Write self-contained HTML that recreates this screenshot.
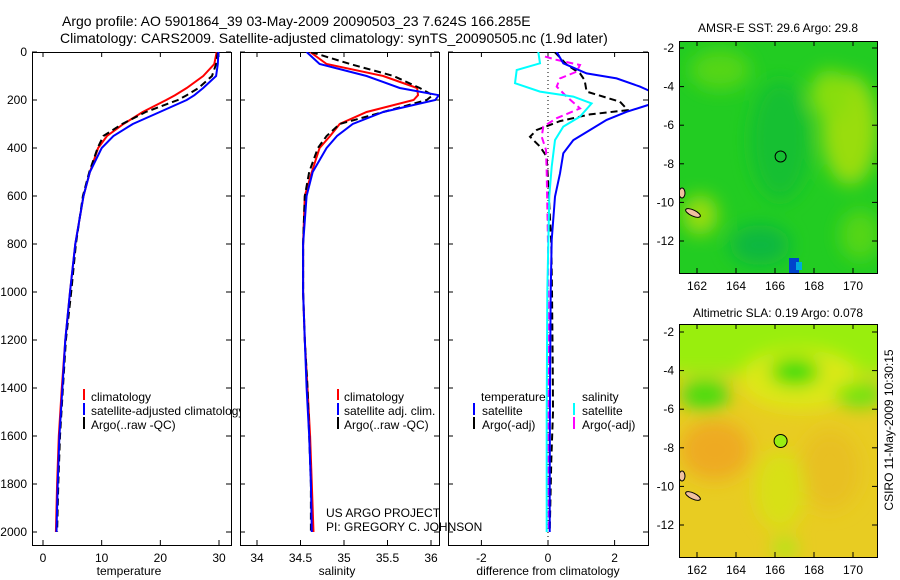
<!DOCTYPE html>
<html><head><meta charset="utf-8"><style>
html,body{margin:0;padding:0;background:#fff;}
svg{display:block;font-family:"Liberation Sans",sans-serif;}
</style></head><body>
<svg id="fig" width="900" height="580" viewBox="0 0 900 580" xmlns="http://www.w3.org/2000/svg">
<defs>
<clipPath id="c1"><rect x="32" y="52" width="199" height="493"/></clipPath>
<clipPath id="c2"><rect x="240" y="52" width="199" height="493"/></clipPath>
<clipPath id="c3"><rect x="448" y="52" width="200" height="493"/></clipPath>
<clipPath id="cm1"><rect x="679" y="41" width="198" height="232"/></clipPath>
<clipPath id="cm2"><rect x="679" y="324" width="198" height="233"/></clipPath>
<clipPath id="cleg"><rect x="0" y="380" width="241" height="60"/></clipPath>
<filter id="bl" x="-50%" y="-50%" width="200%" height="200%"><feGaussianBlur stdDeviation="9"/></filter>
</defs>
<text x="62" y="26" font-size="14">Argo profile: AO 5901864_39 03-May-2009 20090503_23 7.624S 166.285E</text>
<text x="60" y="43" font-size="14">Climatology: CARS2009. Satellite-adjusted climatology: synTS_20090505.nc (1.9d later)</text>

<g>
<g clip-path="url(#cm1)">
<rect x="679" y="41" width="198" height="232" fill="#22cc22"/>
<g filter="url(#bl)">
<ellipse cx="850" cy="130" rx="28" ry="55" fill="#99dd11"/>
<ellipse cx="830" cy="95" rx="20" ry="25" fill="#88dd11"/>
<ellipse cx="720" cy="70" rx="30" ry="20" fill="#55d618"/>
<ellipse cx="700" cy="215" rx="18" ry="20" fill="#99dd11"/>
<ellipse cx="760" cy="245" rx="30" ry="20" fill="#10b840"/>
<ellipse cx="780" cy="140" rx="30" ry="60" fill="#14c030"/>
<ellipse cx="860" cy="235" rx="20" ry="25" fill="#55d618"/>
</g>
<rect x="789" y="258" width="10" height="15" fill="#0044cc"/>
<rect x="796" y="262" width="6" height="8" fill="#00aadd"/>
<ellipse cx="693" cy="213" rx="8" ry="3" fill="#f0c0a0" stroke="#000" transform="rotate(25 693 213)"/>
<ellipse cx="682" cy="193" rx="3" ry="5" fill="#f0c0a0" stroke="#000"/>
</g>
<circle cx="780.6" cy="156.5" r="5.5" fill="none" stroke="#000"/>
</g>
<g>
<g clip-path="url(#cm2)">
<rect x="679" y="324" width="198" height="233" fill="#e8cc22"/>
<g filter="url(#bl)">
<rect x="660" y="300" width="240" height="75" fill="#99ee11"/>
<ellipse cx="800" cy="380" rx="60" ry="30" fill="#dde818"/>
<ellipse cx="705" cy="395" rx="25" ry="15" fill="#44dd11"/>
<ellipse cx="795" cy="372" rx="25" ry="14" fill="#22dd11"/>
<ellipse cx="860" cy="395" rx="25" ry="12" fill="#66e511"/>
<ellipse cx="715" cy="450" rx="35" ry="30" fill="#eeaa22"/>
<ellipse cx="830" cy="470" rx="30" ry="40" fill="#e8c020"/>
<ellipse cx="780" cy="490" rx="25" ry="40" fill="#d8e018"/>
<ellipse cx="785" cy="548" rx="12" ry="10" fill="#aaea18"/>
</g>
<ellipse cx="693" cy="496" rx="8" ry="3" fill="#f0c0a0" stroke="#000" transform="rotate(25 693 496)"/>
<ellipse cx="682" cy="476" rx="3" ry="5" fill="#f0c0a0" stroke="#000"/>
</g>
<circle cx="780.6" cy="441" r="6.5" fill="#99ee11" stroke="#000"/>
</g>
<text x="778" y="32" font-size="12" text-anchor="middle">AMSR-E SST: 29.6 Argo: 29.8</text>
<text x="778" y="317" font-size="12" text-anchor="middle">Altimetric SLA: 0.19 Argo: 0.078</text>
<text transform="translate(893 430) rotate(-90)" font-size="12" text-anchor="middle">CSIRO 11-May-2009 10:30:15</text>

<g id="axes"></g>
<g id="series"></g>

<g font-size="12" clip-path="url(#cleg)">
<line x1="84" y1="389" x2="84" y2="400" stroke="#f00" stroke-width="2"/><text x="91" y="401">climatology</text>
<line x1="84" y1="403" x2="84" y2="415" stroke="#00f" stroke-width="2"/><text x="91" y="415">satellite-adjusted climatology</text>
<line x1="84" y1="417" x2="84" y2="429" stroke="#000" stroke-width="2"/><text x="91" y="429">Argo(..raw -QC)</text>
</g>
<g font-size="12">
<line x1="338" y1="389" x2="338" y2="400" stroke="#f00" stroke-width="2"/><text x="344" y="401">climatology</text>
<line x1="338" y1="403" x2="338" y2="415" stroke="#00f" stroke-width="2"/><text x="344" y="415">satellite adj. clim.</text>
<line x1="338" y1="417" x2="338" y2="429" stroke="#000" stroke-width="2"/><text x="344" y="429">Argo(..raw -QC)</text>
</g>
<g font-size="12">
<text x="481" y="401">temperature</text>
<line x1="474" y1="403" x2="474" y2="415" stroke="#00f" stroke-width="2"/><text x="482" y="415">satellite</text>
<line x1="474" y1="417" x2="474" y2="429" stroke="#000" stroke-width="2"/><text x="482" y="429">Argo(-adj)</text>
<text x="582" y="401">salinity</text>
<line x1="574" y1="403" x2="574" y2="415" stroke="#0ff" stroke-width="2"/><text x="582" y="415">satellite</text>
<line x1="574" y1="417" x2="574" y2="429" stroke="#f0f" stroke-width="2"/><text x="582" y="429">Argo(-adj)</text>
</g>
<g font-size="12">
<text x="326" y="517">US ARGO PROJECT</text>
<text x="326" y="531">PI: GREGORY C. JOHNSON</text>
</g>
<text x="129" y="575" font-size="12" text-anchor="middle">temperature</text>
<text x="337" y="575" font-size="12" text-anchor="middle">salinity</text>
<text x="548" y="575" font-size="12" text-anchor="middle">difference from climatology</text>
</svg>
<script>
const depthTS = [0,50,100,150,180,200,250,300,350,400,500,600,800,1000,1200,1400,1600,1800,2000];
const tempClim = [29.6,29.2,27.3,24.5,22.5,21,17,13.7,10.9,9.4,8,6.9,5.5,4.6,3.8,3.2,2.7,2.4,2.2];
const tempSat = [29.9,29.8,29.5,27.3,25.8,24.5,19.9,15.3,12,10,8,6.9,5.5,4.6,3.8,3.3,2.8,2.5,2.3];
const tempArgo = [29.8,29.5,28.8,26.5,24.5,23,17.5,13.5,10.3,9.3,7.9,6.8,5.6,4.8,3.9,3.4,2.9,2.6,2.4];
const salClim = [34.61,34.8,35.45,35.84,35.85,35.8,35.26,34.95,34.84,34.72,34.63,34.55,34.53,34.53,34.55,34.58,34.61,34.63,34.65];
const salSat = [34.57,34.72,35.26,35.64,36.09,36.05,35.45,35.1,34.92,34.8,34.64,34.57,34.53,34.53,34.55,34.57,34.6,34.62,34.63];
const salArgo = [34.62,35.07,35.57,35.87,36.02,35.95,35.45,34.95,34.8,34.7,34.6,34.55,34.53,34.53,34.55,34.58,34.6,34.62,34.62];
const dTempSatDepth = [0,47,89,110,144,165,190,221,249,283,325,367,422,506,603,783,1000,1400,1800,2000];
const dTempSat = [0.26,0.46,1.16,2.06,2.76,3.1,3.3,3.01,2.36,1.76,1.26,0.76,0.46,0.36,0.21,0.11,0.08,0.06,0.05,0.05];
const dTempArgoDepth = [0,52,89,117,165,207,242,260,288,325,353,394,436,533,800,1000,1300,1500,1700,2000];
const dTempArgo = [0.2,0.56,0.96,1.1,1.16,2.16,2.4,1.26,0.36,-0.34,-0.54,-0.24,-0.04,0,0.1,0.12,0.14,0.15,0.1,0.05];
const dSalSatDepth = [0,47,75,130,165,186,214,269,311,367,478,600,1000,1500,2000];
const dSalSat = [-0.29,-0.24,-0.94,-0.99,-0.24,0.76,1.31,0.96,0.46,0.21,0.11,0.04,-0.02,-0.04,-0.04];
const dSalArgoDepth = [19,33,54,82,110,144,186,235,276,311,353,408,500,800,1200,1600,2000];
const dSalArgo = [-0.09,0.26,0.96,0.86,0.36,0.26,0.56,0.96,0.26,-0.14,-0.19,-0.06,-0.04,0,0.02,0.01,0.02];
const depthTicks = [0,200,400,600,800,1000,1200,1400,1600,1800,2000];
const tempTicks = [0,10,20,30];
const salTicks = [34,34.5,35,35.5,36];
const diffTicks = [-2,0,2];
const lonTicks = [162,164,166,168,170];
const latTicks = [-2,-4,-6,-8,-10,-12];

const NS = 'http://www.w3.org/2000/svg';
const py = d => 52 + d * 0.24;
const px1 = t => 43 + t * 5.867;
const px2 = s => 257 + (s - 34) * 87;
const px3 = v => 548 + v * 33.3;
const mx = lon => 697 + (lon - 162) * 19.5;
const my1 = lat => 48 + (-2 - lat) * 19.3;
const my2 = lat => 332 + (-2 - lat) * 19.3;

const axes = document.getElementById('axes');
const series = document.getElementById('series');
function mk(tag, attrs, parent) {
  const e = document.createElementNS(NS, tag);
  for (const k in attrs) e.setAttribute(k, attrs[k]);
  parent.appendChild(e);
  return e;
}
function panel(name, x0, x1, y0, y1, xt, fx, yt, fy, parent) {
  const g = mk('g', {}, parent);
  
  
  mk('rect', {x: x0 + 0.5, y: y0 + 0.5, width: x1 - x0, height: y1 - y0, fill: 'none', stroke: '#000'}, g);
  xt.forEach(v => {
    const x = fx(v);
    mk('line', {x1: x, x2: x, y1: y1, y2: y1 - 5, stroke: '#000'}, g);
    mk('line', {x1: x, x2: x, y1: y0, y2: y0 + 5, stroke: '#000'}, g);
    const t = mk('text', {x: x, y: y1 + 17, 'font-size': 12, 'text-anchor': 'middle'}, g);
    t.textContent = v;
    
    
  });
  yt.forEach(v => {
    const y = fy(v);
    mk('line', {x1: x0, x2: x0 + 5, y1: y, y2: y, stroke: '#000'}, g);
    mk('line', {x1: x1, x2: x1 - 5, y1: y, y2: y, stroke: '#000'}, g);
  });
}
function ylabels(x0, yt, fy, parent) {
  yt.forEach(v => {
    const t = mk('text', {x: x0 - 5, y: fy(v) + 4, 'font-size': 12, 'text-anchor': 'end'}, parent);
    t.textContent = v;
    
    
  });
}
panel('temperature-axes', 32, 231, 52, 545, tempTicks, px1, depthTicks, py, axes);
ylabels(32, depthTicks, py, axes);
panel('salinity-axes', 240, 439, 52, 545, salTicks, px2, depthTicks, py, axes);
panel('difference-axes', 448, 648, 52, 545, diffTicks, px3, depthTicks, py, axes);
panel('sst-map-axes', 679, 877, 41, 273, lonTicks, mx, latTicks, my1, axes);
ylabels(679, latTicks, my1, axes);
panel('sla-map-axes', 679, 877, 324, 557, lonTicks, mx, latTicks, my2, axes);
ylabels(679, latTicks, my2, axes);

const zl = mk('line', {x1: px3(0), x2: px3(0), y1: 52, y2: 545, stroke: '#000', 'stroke-dasharray': '1,3'}, series);



function line(name, xs, ds, fx, color, clip, dashed) {
  const pts = xs.map((v, i) => fx(v).toFixed(1) + ',' + py(ds[i]).toFixed(1)).join(' ');
  const attrs = {points: pts, fill: 'none', stroke: color, 'stroke-width': 2, 'clip-path': 'url(#' + clip + ')'};
  if (dashed) attrs['stroke-dasharray'] = '7,4';
  const p = mk('polyline', attrs, series);
  
  
}
line('temp-climatology-line', tempClim, depthTS, px1, '#f00', 'c1');
line('temp-argo-line', tempArgo, depthTS, px1, '#000', 'c1', true);
line('temp-satellite-line', tempSat, depthTS, px1, '#00f', 'c1');
line('sal-climatology-line', salClim, depthTS, px2, '#f00', 'c2');
line('sal-argo-line', salArgo, depthTS, px2, '#000', 'c2', true);
line('sal-satellite-line', salSat, depthTS, px2, '#00f', 'c2');
line('diff-temp-argo-line', dTempArgo, dTempArgoDepth, px3, '#000', 'c3', true);
line('diff-sal-argo-line', dSalArgo, dSalArgoDepth, px3, '#f0f', 'c3', true);
line('diff-temp-satellite-line', dTempSat, dTempSatDepth, px3, '#00f', 'c3');
line('diff-sal-satellite-line', dSalSat, dSalSatDepth, px3, '#0ff', 'c3');
</script>
</body></html>
